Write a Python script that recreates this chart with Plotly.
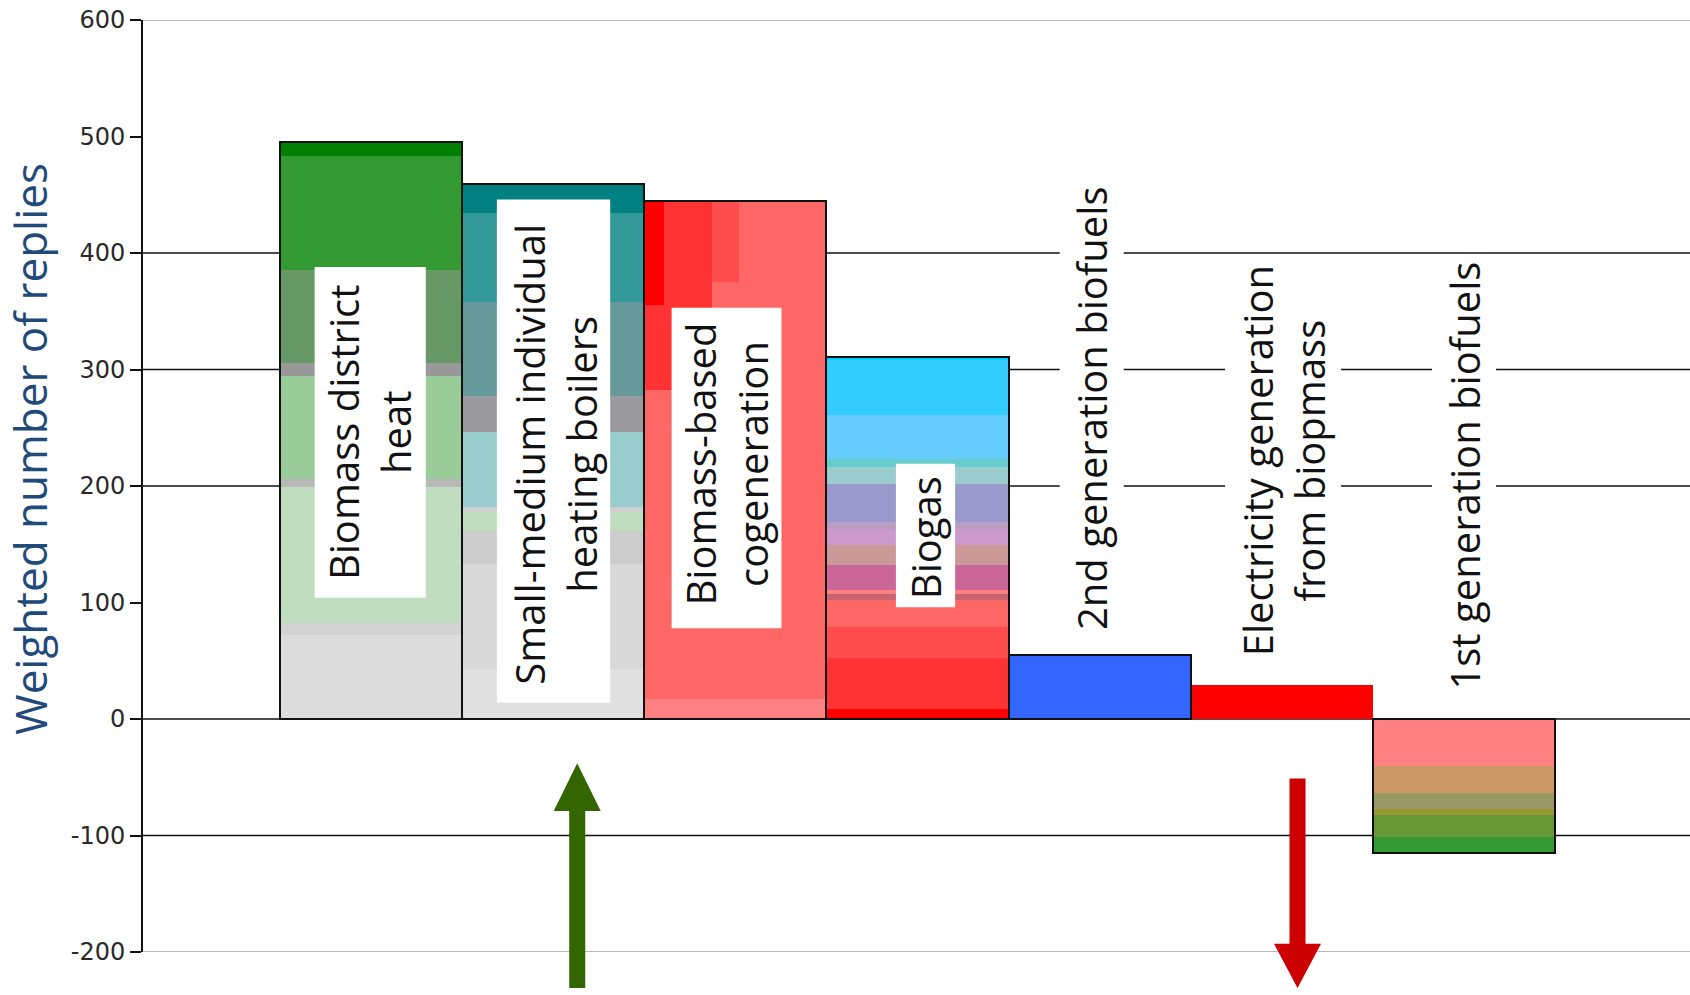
import plotly.graph_objects as go

# ---------------- data ----------------
categories = ["Biomass district heat", "Small-medium individual heating boilers",
              "Biomass-based cogeneration", "Biogas", "2nd generation biofuels",
              "Electricity generation from biopmass", "1st generation biofuels"]
cat_pos = [1, 2, 3, 4, 5, 6, 7]

# stacked segments, from the zero line outwards
heat_values = [72, 10, 117, 7, 88, 12, 79, 98, 12]
heat_colors = ["#DCDCDC", "#D3D3D3", "#C0DDC0", "#B8B8B8", "#99CC99", "#999999",
               "#669966", "#339933", "#007F00"]

boilers_values = [43, 90, 28, 17, 4, 64, 31, 81, 76, 25]
boilers_colors = ["#E0E0E0", "#D8D8D8", "#CCCCCC", "#C0DDC0", "#D0D0D0", "#99CCCC",
                  "#9A9A9E", "#669999", "#339999", "#008080"]

cogen_values = [17, 428]
cogen_colors = ["#FF8080", "#FF6666"]

biogas_values = [9, 43, 27, 23, 5, 4, 21, 17, 14, 6, 33, 14, 7, 38, 47, 3]
biogas_colors = ["#FF0000", "#FF3333", "#FF4D4D", "#FF6666", "#C86470", "#FF8080",
                 "#CC6699", "#CC9999", "#CC99CC", "#B89CC4", "#9999CC", "#99CCCC",
                 "#66CCCC", "#66CCFF", "#33CCFF", "#00CCFF"]

biofuel2_values = [55]
biofuel2_colors = ["#3366FF"]

electricity_values = [29]
electricity_colors = ["#FF0000"]

biofuel1_values = [-40, -23.5, -13.7, -5, -19, -14]
biofuel1_colors = ["#FF8080", "#CC9966", "#999966", "#999933", "#669933", "#339933"]

# extra patches in the upper-left of the cogeneration bar
cogen_patch_left = [0.0, 0.0, 0.37]
cogen_patch_width = [0.37, 0.11, 0.15]
cogen_patch_low = [282, 355, 375]
cogen_patch_high = [445, 445, 445]
cogen_patch_colors = ["#FF3333", "#FF0000", "#FF4D4D"]

outlined = [True, True, True, True, True, False, True]

y_ticks = [-200, -100, 0, 100, 200, 300, 400, 500, 600]
black_grid = [400, 300, 200, 0, -100]
grey_grid = [600, -200]

labels = ["Biomass district<br>heat", "Small-medium individual<br>heating boilers",
          "Biomass-based<br>cogeneration", "Biogas", "2nd generation biofuels",
          "Electricity generation<br>from biopmass", "1st generation biofuels"]
label_x = [0.994, 2.012, 2.953, 4.041, 4.959, 6.006, 7.0]
label_y = [246, 227, 219, 156, 267, 222, 209]
label_in_bar = [True, True, True, True, False, False, False]
box_x0 = [0.692, 1.692, 2.651, 3.882]
box_x1 = [1.302, 2.314, 3.254, 4.207]
box_y0 = [104, 14, 78, 96]
box_y1 = [388, 446, 353, 219]

# arrows: centre x, shaft end, head base, tip (data units)
arrow_x = [2.133, 6.086]
arrow_tail = [-231, -51]
arrow_base = [-79, -193]
arrow_tip = [-38, -231]
arrow_colors = ["#336600", "#CC0000"]

X_RANGE = [-0.25, 8.24]
Y_RANGE = [-200, 600]

# ---------------- figure ----------------
fig = go.Figure()

series = [(heat_values, heat_colors), (boilers_values, boilers_colors),
          (cogen_values, cogen_colors), (biogas_values, biogas_colors),
          (biofuel2_values, biofuel2_colors), (electricity_values, electricity_colors),
          (biofuel1_values, biofuel1_colors)]

totals = []
for pos, (vals, cols) in zip(cat_pos, series):
    base = 0
    for v, c in zip(vals, cols):
        fig.add_trace(go.Bar(x=[pos], y=[v], base=[base], width=1,
                             marker=dict(color=c, line=dict(width=0)),
                             showlegend=False, hoverinfo="skip"))
        base += v
    totals.append(base)

# cogeneration patches
for left, w, lo, hi, c in zip(cogen_patch_left, cogen_patch_width, cogen_patch_low,
                              cogen_patch_high, cogen_patch_colors):
    fig.add_trace(go.Bar(x=[3], y=[hi - lo], base=[lo], width=w, offset=-0.5 + left,
                         marker=dict(color=c, line=dict(width=0)),
                         showlegend=False, hoverinfo="skip"))

# outlines
ox = [p for p, o in zip(cat_pos, outlined) if o]
oy = [t for t, o in zip(totals, outlined) if o]
fig.add_trace(go.Bar(x=ox, y=oy, base=[0] * len(ox), width=1,
                     marker=dict(color="rgba(0,0,0,0)", line=dict(color="#111111", width=2)),
                     showlegend=False, hoverinfo="skip"))

shapes = []
for g in black_grid:
    shapes.append(dict(type="line", xref="paper", x0=0, x1=1, yref="y", y0=g, y1=g,
                       line=dict(color="#111111", width=1.5), layer="below"))
for g in grey_grid:
    shapes.append(dict(type="line", xref="paper", x0=0, x1=1, yref="y", y0=g, y1=g,
                       line=dict(color="#A0A0A0", width=1.5), layer="below"))

for x0, x1, y0, y1 in zip(box_x0, box_x1, box_y0, box_y1):
    shapes.append(dict(type="rect", xref="x", yref="y", x0=x0, x1=x1, y0=y0, y1=y1,
                       fillcolor="white", line=dict(width=0), layer="above"))


def xp(x):
    return (x - X_RANGE[0]) / (X_RANGE[1] - X_RANGE[0])


def yp(y):
    return (y - Y_RANGE[0]) / (Y_RANGE[1] - Y_RANGE[0])


HEAD_HALF = 0.129
SHAFT_HALF = 0.044
for cx, tail, hb, tip, col in zip(arrow_x, arrow_tail, arrow_base, arrow_tip, arrow_colors):
    pts = [(cx - SHAFT_HALF, tail), (cx - SHAFT_HALF, hb), (cx - HEAD_HALF, hb),
           (cx, tip), (cx + HEAD_HALF, hb), (cx + SHAFT_HALF, hb), (cx + SHAFT_HALF, tail)]
    path = "M " + " L ".join(f"{xp(a):.5f},{yp(b):.5f}" for a, b in pts) + " Z"
    shapes.append(dict(type="path", xref="paper", yref="paper", path=path,
                       fillcolor=col, line=dict(width=0), layer="above"))

annotations = []
for txt, lx, ly, inb in zip(labels, label_x, label_y, label_in_bar):
    annotations.append(dict(x=lx, y=ly, xref="x", yref="y", text=txt, showarrow=False,
                            textangle=-90, font=dict(family="Open Sans", size=40, color="#111111"),
                            bgcolor=None if inb else "white", borderpad=4,
                            xanchor="center", yanchor="middle"))

annotations.append(dict(x=(30 - 143) / 1547, y=(952 - 449) / 932, xref="paper", yref="paper",
                        text="Weighted number of replies", showarrow=False, textangle=-90,
                        font=dict(family="Open Sans", size=44, color="#1f4a7a"),
                        xanchor="center", yanchor="middle"))

fig.update_layout(
    width=1690, height=995,
    margin=dict(l=143, r=0, t=20, b=43),
    paper_bgcolor="white", plot_bgcolor="white",
    barmode="overlay", bargap=0,
    showlegend=False,
    shapes=shapes, annotations=annotations,
    xaxis=dict(range=X_RANGE, visible=False, fixedrange=True),
    yaxis=dict(range=Y_RANGE, tickvals=y_ticks, ticktext=[str(t) for t in y_ticks],
               showgrid=False, zeroline=False, showline=True, linecolor="#111111",
               linewidth=2, ticks="outside", ticklen=11, tickwidth=1.5, tickcolor="#111111",
               tickfont=dict(family="DejaVu Sans", size=24, color="#2a2a2a"),
               fixedrange=True),
)

fig.write_html("out.html")
